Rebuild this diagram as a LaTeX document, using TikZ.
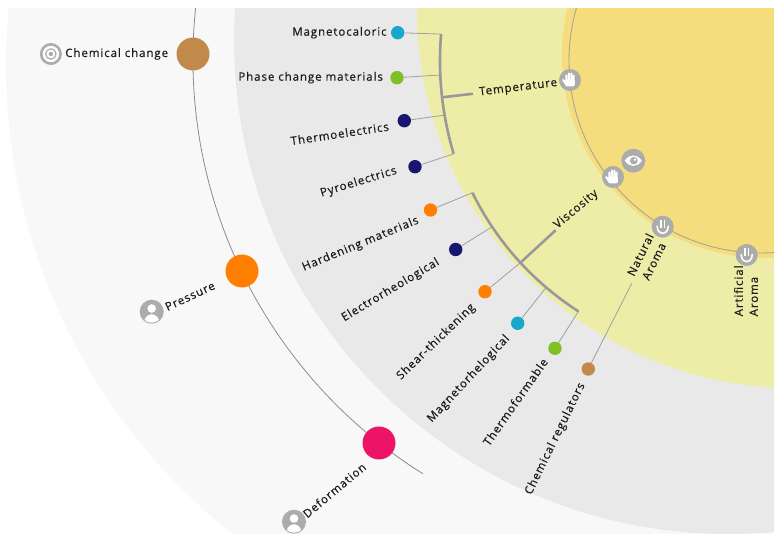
\documentclass[tikz,border=0pt]{standalone}
\usepackage{fontspec}
\setmainfont{Open Sans}[LetterSpace=8, FakeBold=0.35]
\usetikzlibrary{positioning}
\definecolor{outerlight}{RGB}{248,248,248}
\definecolor{midgray}{RGB}{233,233,233}
\definecolor{paleyellow}{RGB}{238,237,168}
\definecolor{sunyellow}{RGB}{245,221,126}
\definecolor{icongray}{RGB}{172,172,172}
\definecolor{txtgray}{RGB}{28,28,28}
\definecolor{cbrown}{RGB}{193,137,74}
\definecolor{corange}{RGB}{255,128,0}
\definecolor{cpink}{RGB}{237,20,104}
\definecolor{ccyan}{RGB}{25,167,206}
\definecolor{cgreen}{RGB}{126,192,38}
\definecolor{cnavy}{RGB}{24,22,112}
\tikzset{
dot/.style={circle, inner sep=0pt, minimum size=13.4pt}, % small coloured dots
bigdot/.style={circle, inner sep=0pt, minimum size=33pt}, % the three big dots
lbl/.style={text=txtgray, inner sep=0pt, font=\fontsize{11.5}{15}\selectfont}, % all texts
link/.style={draw=gray!75, line width=0.8pt}, % thin connectors
bracket/.style={draw=gray!80, line width=2.6pt}, % thick brackets and stems
ringline/.style={draw={rgb,255:red,168;green,165;blue,150}, line width=0.9pt},
arcline/.style={draw=gray!90, line width=0.8pt},
iconspot/.style={circle, inner sep=0pt, minimum size=22pt},
targeticon/.pic={
  \fill[icongray] (0,0) circle[radius=11];
  \fill[white] (0,0) circle[radius=8.2];
  \draw[icongray, line width=1.2pt] (0,0) circle[radius=5.2];
  \fill[icongray] (0,0) circle[radius=2.2];
},
personicon/.pic={
  \fill[icongray] (0,0) circle[radius=12];
  \begin{scope}
    \clip (0,0) circle[radius=11];
    \fill[white] (0,-3.2) circle[radius=4.3];
    \fill[white] (0,12.5) ellipse[x radius=8, y radius=10];
  \end{scope}
},
handicon/.pic={
  \fill[icongray] (0,0) circle[radius=11];
  \draw[white, line width=2pt, line cap=round] (-3.7,1) -- (-3.7,-4.5) (-1.25,1) -- (-1.25,-6.5)
    (1.25,1) -- (1.25,-6.5) (3.7,1) -- (3.7,-4.5) (-4.4,3.5) -- (-6.8,0);
  \fill[white, rounded corners=2pt] (-4.8,-0.5) rectangle (4.8,6.5);
},
eyeicon/.pic={
  \fill[icongray] (0,0) circle[radius=12];
  \fill[white] (-8.5,0) .. controls (-4,-7) and (4,-7) .. (8.5,0) .. controls (4,7) and (-4,7) .. (-8.5,0);
  \fill[icongray] (0.5,0) circle[radius=3.8];
  \fill[white] (1.6,-1) circle[radius=1.3];
},
noseicon/.pic={
  \fill[icongray] (0,0) circle[radius=11];
  \draw[white, line width=1.6pt] (-1.7,-7) -- (-1.7,1.5) (1.7,-7) -- (1.7,1.5);
  \draw[white, line width=1.6pt, line cap=round] (-5.5,-0.5) .. controls (-5.5,5) and (-2,6.5) .. (0,6.5)
    .. controls (2,6.5) and (5.5,5) .. (5.5,-0.5);
},
}

\begin{document}
\begin{tikzpicture}[x=1pt, y=-1pt]
\useasboundingbox (0,0) rectangle (774,534);
\clip (0,9) rectangle (774,534);
% rings
\fill[outerlight] (605,65) circle[radius=599];
\fill[midgray] (728,40) circle[radius=494];
\fill[paleyellow] (795,10) circle[radius=378];
\fill[sunyellow] (765,55) circle[radius=203];
\draw[ringline] (761,61) circle[radius=192];

% outer arc with the big dots
\coordinate (aTop) at (196.6,-0.6);
\draw[arcline] (aTop) arc[start angle=187, end angle=122, radius=489];
\node[bigdot, fill=cbrown] (cc) at (193,54) {};
\node[bigdot, fill=corange] (pr) at (242,271) {};
\node[bigdot, fill=cpink] (df) at (379,443) {};
\node[lbl, left=8pt of cc] (ccL) {Chemical change};
\node[iconspot, left=3pt of ccL] (ccI) {};
\pic at (ccI) {targeticon};
\node[lbl, rotate=25, anchor=base east] (prL) at (216,288.5) {Pressure};
\pic (prI) at (151.7,311.7) {personicon};
\node[lbl, rotate=40, anchor=base east] (dfL) at (367,468.5) {Deformation};
\pic (dfI) at (294,521.7) {personicon};

% bracket points
\coordinate (tA) at (441.1,34.1);
\coordinate (tP) at (440.3,75);
\coordinate (tS) at (442.1,97.3);
\coordinate (tT) at (444.6,115.1);
\coordinate (tB) at (453.7,153.8);
\coordinate (tE) at (472.9,93.8);
\coordinate (vA) at (472.4,192.7);
\coordinate (vE) at (492.3,226.7);
\coordinate (vS) at (520.4,262.7);
\coordinate (vM) at (546.2,287.4);
\coordinate (vB) at (578.5,311.3);
\coordinate (vX) at (555.7,230.2);
\coordinate (na) at (632,283);

% small dots
\node[dot, fill=ccyan] (mc) at (397.7,32.7) {};
\node[dot, fill=cgreen] (pc) at (397,77.7) {};
\node[dot, fill=cnavy] (te) at (404.3,120.7) {};
\node[dot, fill=cnavy] (pe) at (415,166.7) {};
\node[dot, fill=corange] (hm) at (430.5,210) {};
\node[dot, fill=cnavy] (er) at (455.7,249.5) {};
\node[dot, fill=corange] (st) at (485,291.7) {};
\node[dot, fill=ccyan] (mr) at (517.7,323.3) {};
\node[dot, fill=cgreen] (tf) at (555,348.3) {};
\node[dot, fill=cbrown] (cr) at (588.3,369) {};

% connectors and brackets
\draw[link] (mc) -- (tA) (pc) -- (tP) (te) -- (tT) (pe) -- (tB);
\draw[link] (hm) -- (vA) (er) -- (vE) (st) -- (vS) (mr) -- (vM) (tf) -- (vB) (cr) -- (na);
\draw[bracket] (tA) arc[start angle=184.8, end angle=163.2, radius=321];
\draw[bracket] (vA) arc[start angle=153.8, end angle=122.6, radius=296];
\draw[bracket] (tS) -- (tE);
\draw[bracket] (vS) -- (vX);

% dot labels
\node[lbl, left=4pt of mc] (mcL) {Magnetocaloric};
\node[lbl, left=7pt of pc] (pcL) {Phase change materials};
\node[lbl, rotate=8.5, anchor=base east] (teL) at (389.5,130.5) {Thermoelectrics};
\node[lbl, rotate=17, anchor=base east] (peL) at (397.5,173.5) {Pyroelectrics};
\node[lbl, rotate=22.5, anchor=base east] (hmL) at (419.5,223) {Hardening materials};
\node[lbl, rotate=31, anchor=base east] (erL) at (440,264) {Electrorheological};
\node[lbl, rotate=44, anchor=base east] (stL) at (475.5,308) {Shear-thickening};
\node[lbl, rotate=47, anchor=base east] (mrL) at (510,339) {Magnetorhelogical};
\node[lbl, rotate=55, anchor=base east] (tfL) at (548.5,362) {Thermoformable};
\node[lbl, rotate=64, anchor=base east] (crL) at (585,385) {Chemical regulators};

% inner labels and icons
\node[lbl, rotate=7, anchor=base west] (tempL) at (479.5,95.5) {Temperature};
\node[lbl, rotate=40, anchor=base west] (viscL) at (557.5,229) {Viscosity};
\node[lbl, rotate=64, align=center] (natL) at (647,258) {Natural\\Aroma};
\node[lbl, rotate=90, align=left, anchor=west] (artL) at (746,316.5) {Artificial\\Aroma};
\pic (tempI) at (570,80) {handicon};
\pic (viscI) at (613,177) {handicon};
\pic (eyeI) at (633.3,160.7) {eyeicon};
\pic (natI) at (662.7,226.7) {noseicon};
\pic (artI) at (746.7,255) {noseicon};
\end{tikzpicture}
\end{document}
